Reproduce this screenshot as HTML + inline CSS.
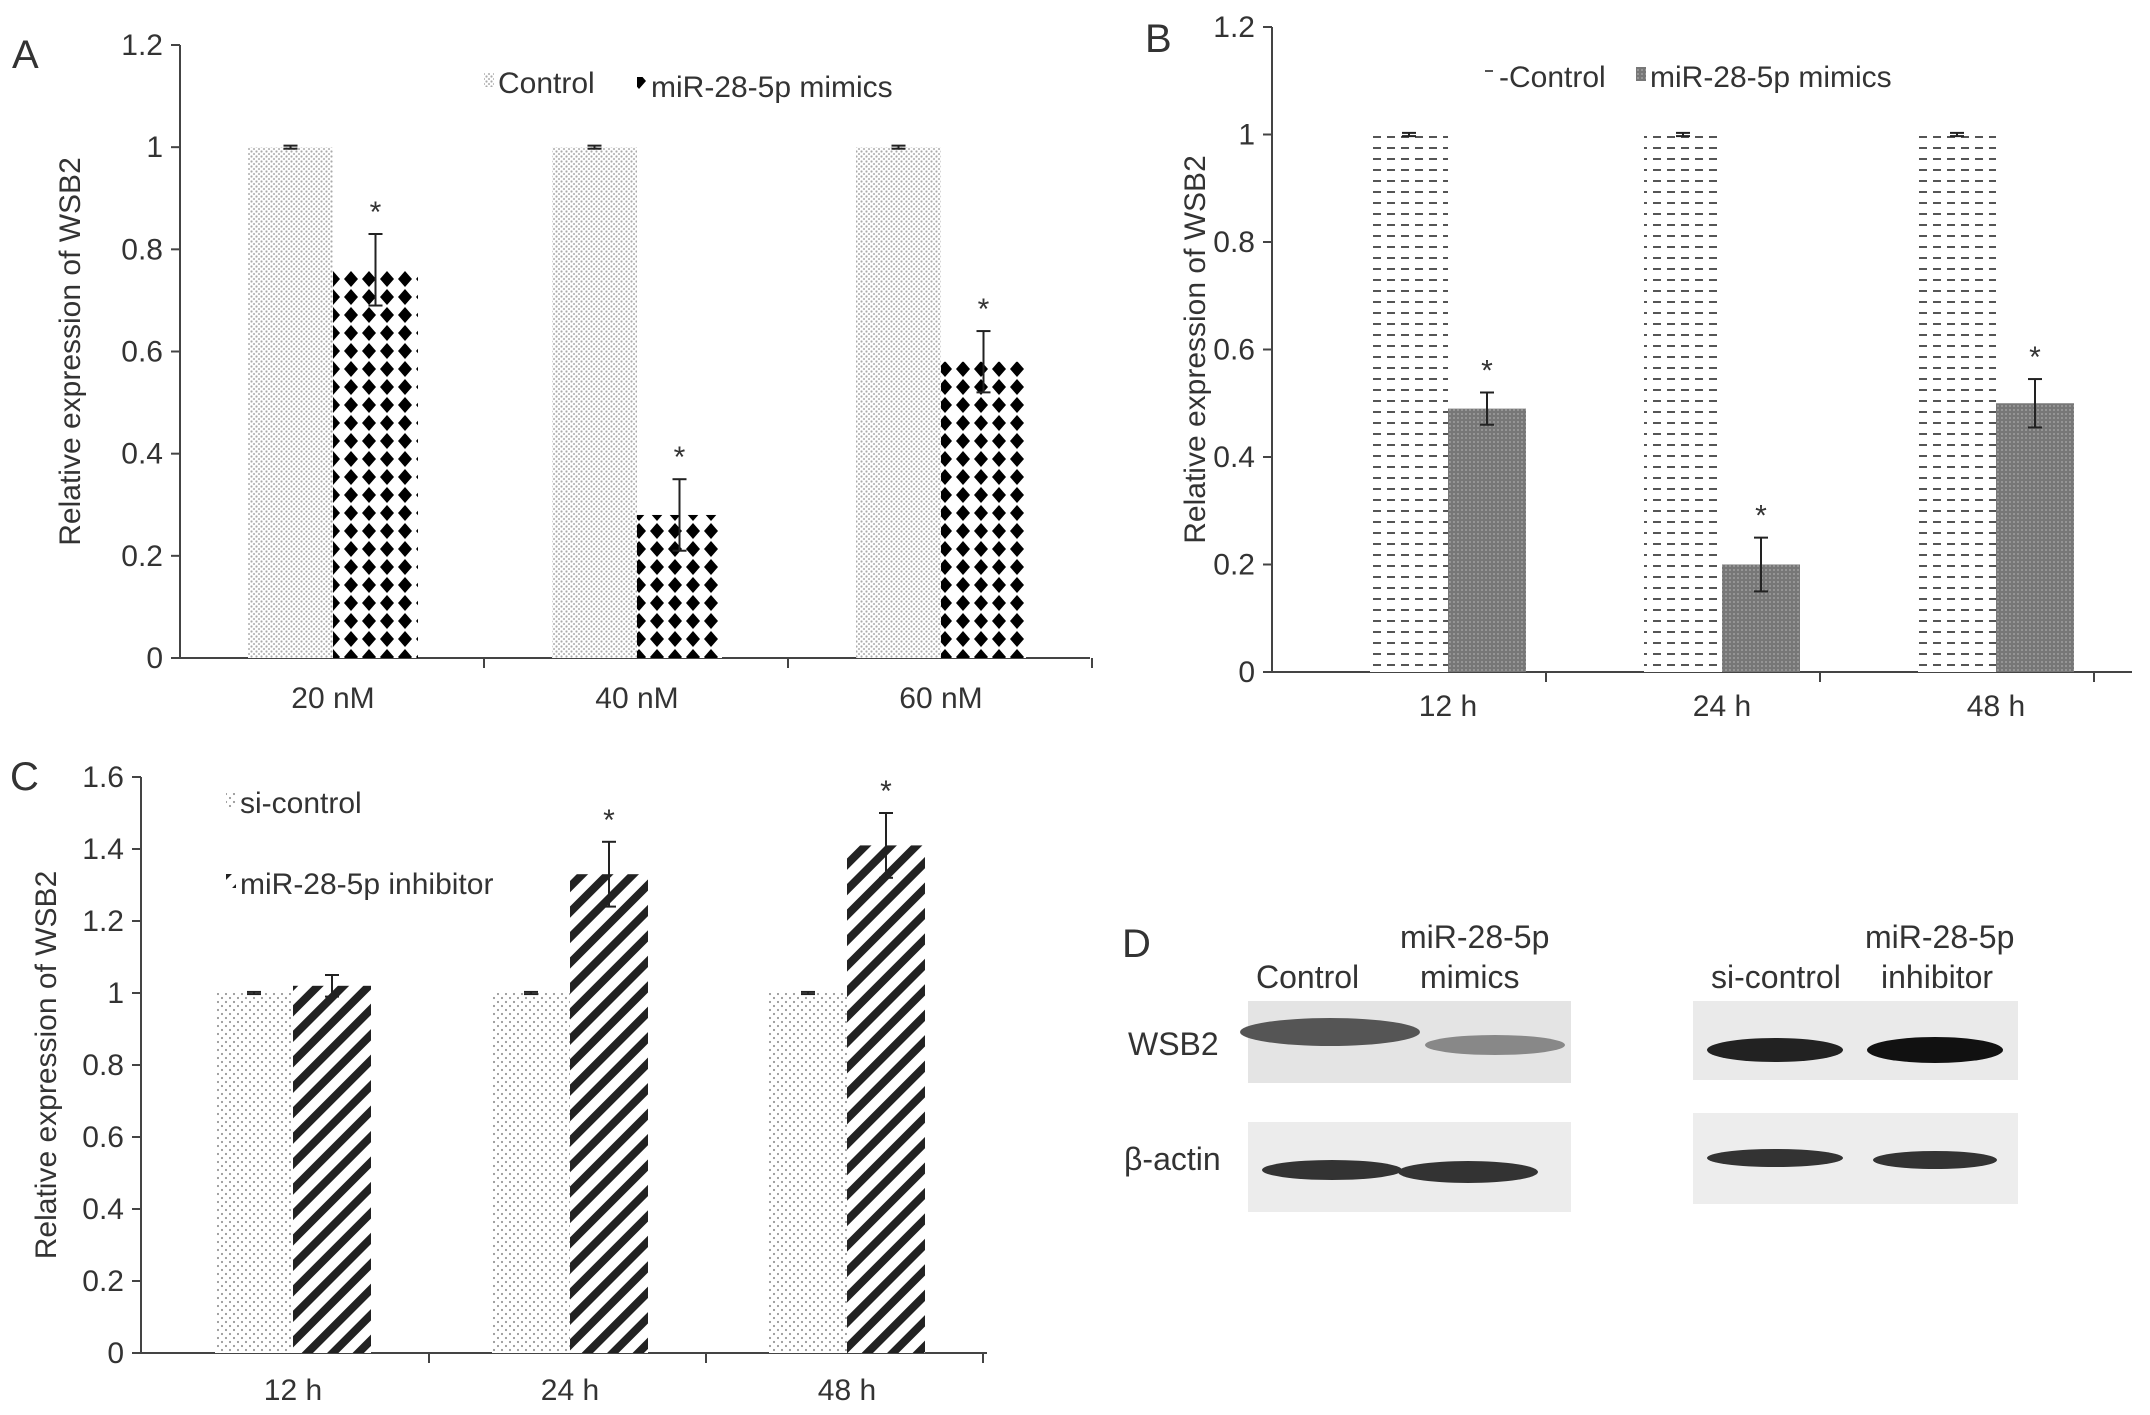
<!DOCTYPE html>
<html><head><meta charset="utf-8"><style>
html,body{margin:0;padding:0;background:#fff}
svg{display:block;font-family:"Liberation Sans",sans-serif}
</style></head><body>
<svg id="fig" width="2150" height="1415" viewBox="0 0 2150 1415">
<defs>
<pattern id="pDots" width="5" height="5" patternUnits="userSpaceOnUse"><rect width="5" height="5" fill="#fff"/><circle cx="1.5" cy="1.5" r="1.1" fill="#aaa"/><circle cx="4" cy="4" r="1.1" fill="#bbb"/></pattern>
<pattern id="pDiamond" width="18" height="18" patternUnits="userSpaceOnUse"><rect width="18" height="18" fill="#fff"/><polygon points="9,1 16,9 9,17 2,9" fill="#000"/></pattern>
<pattern id="pDash" width="14" height="11" patternUnits="userSpaceOnUse"><rect width="14" height="11" fill="#fff"/><rect x="1" y="4" width="8" height="2" fill="#555"/></pattern>
<pattern id="pGray" width="4" height="4" patternUnits="userSpaceOnUse"><rect width="4" height="4" fill="#777"/><circle cx="2" cy="2" r="0.9" fill="#aaa"/></pattern>
<pattern id="pSparse" width="8" height="8" patternUnits="userSpaceOnUse"><rect width="8" height="8" fill="#fff"/><circle cx="2" cy="2" r="1.1" fill="#999"/><circle cx="6" cy="6" r="1.1" fill="#999"/></pattern>
<pattern id="pStripe" width="18" height="18" patternUnits="userSpaceOnUse" patternTransform="rotate(45)"><rect width="18" height="18" fill="#fff"/><rect x="0" y="0" width="8" height="18" fill="#222"/></pattern>
</defs>
</svg>
<script>
// Panel A
const catsA = ["20 nM","40 nM","60 nM"];
const ctrlA = [1.0,1.0,1.0];
const ctrlErrA = [0.003,0.003,0.003];
const mimA = [0.76,0.28,0.58];
const mimErrA = [0.07,0.07,0.06];
const sigA = [true,true,true];
const ticksA = ["0","0.2","0.4","0.6","0.8","1","1.2"];
// Panel B
const catsB = ["12 h","24 h","48 h"];
const ctrlB = [1.0,1.0,1.0];
const ctrlErrB = [0.003,0.003,0.003];
const mimB = [0.49,0.20,0.50];
const mimErrB = [0.03,0.05,0.045];
const sigB = [true,true,true];
const ticksB = ["0","0.2","0.4","0.6","0.8","1","1.2"];
// Panel C
const catsC = ["12 h","24 h","48 h"];
const ctrlC = [1.0,1.0,1.0];
const ctrlErrC = [0.003,0.003,0.003];
const inhC = [1.02,1.33,1.41];
const inhErrC = [0.03,0.09,0.09];
const sigC = [false,true,true];
const ticksC = ["0","0.2","0.4","0.6","0.8","1","1.2","1.4","1.6"];

const svg=document.getElementById('fig');
const NS="http://www.w3.org/2000/svg";
function mk(tag,attrs,parent){const e=document.createElementNS(NS,tag);for(const k in attrs)e.setAttribute(k,attrs[k]);(parent||svg).appendChild(e);return e;}
function txt(s,x,y,size,anchor,parent){const t=mk('text',{x:x,y:y,'font-size':size,'text-anchor':anchor||'start',fill:'#333'},parent);t.textContent=s;return t;}

function panel(o){
  const g=mk('g',{});
  
  
  const ymax=parseFloat(o.ticks[o.ticks.length-1]);
  const y=v=>o.y0-(o.y0-o.yTop)*v/ymax;
  const ax=mk('line',{x1:o.ax,y1:o.yTop,x2:o.ax,y2:o.y0,stroke:'#444','stroke-width':2},g);
  
  const xl=mk('line',{x1:o.ax,y1:o.y0,x2:o.axEnd,y2:o.y0,stroke:'#444','stroke-width':2},g);
  
  o.ticks.forEach(t=>{const v=parseFloat(t);const yy=y(v);
    mk('line',{x1:o.ax-9,y1:yy,x2:o.ax,y2:yy,stroke:'#444','stroke-width':2},g);
    const l=txt(t,o.ax-17,yy+10,30,'end',g);
    });
  const yt=txt("Relative expression of WSB2",0,0,30,'middle',g);
  yt.setAttribute('transform',`translate(${o.ytX},${(o.yTop+o.y0)/2}) rotate(-90)`);
  
  o.cats.forEach((c,i)=>{
    const x0=o.bx+i*o.sp;
    mk('line',{x1:o.sepX+i*o.sp,y1:o.y0,x2:o.sepX+i*o.sp,y2:o.y0+10,stroke:'#444','stroke-width':2},g);
    const series=[[o.ctrl,o.ctrlErr,o.p1],[o.trt,o.trtErr,o.p2]];
    series.forEach((s,j)=>{
      const bxx=x0+j*o.bw, v=s[0][i], e=s[1][i];
      const r=mk('rect',{x:bxx,y:y(v),width:o.bw,height:o.y0-y(v),fill:`url(#${s[2]})`},g);
      
      
      const cx=bxx+o.bw/2;
      mk('line',{x1:cx,y1:y(v+e),x2:cx,y2:y(v-e),stroke:'#222','stroke-width':2},g);
      mk('line',{x1:cx-7,y1:y(v+e),x2:cx+7,y2:y(v+e),stroke:'#222','stroke-width':2},g);
      mk('line',{x1:cx-7,y1:y(v-e),x2:cx+7,y2:y(v-e),stroke:'#222','stroke-width':2},g);
      if(j && o.sig[i]){const a=txt('*',cx,y(v+e)-12,30,'middle',g);}
    });
    const cl=txt(c,x0+o.bw,o.y0+o.labOff,30,'middle',g);
    
  });
  const L=txt(o.letter,o.lx,o.ly,40,'start',g);
  
  o.legend.forEach(l=>{
    mk('rect',{x:l.x-14,y:l.y-20,width:10,height:14,fill:`url(#${l.p})`},g);
    const t=txt(l.t,l.x,l.y,30,'start',g);
    
  });
}
panel({name:'panel-a',letter:'A',lx:12,ly:68,cats:catsA,ctrl:ctrlA,ctrlErr:ctrlErrA,trt:mimA,trtErr:mimErrA,sig:sigA,ticks:ticksA,
  ax:180,axEnd:1090,yTop:45,y0:658,bx:248,bw:85,sp:304,sepX:180+304,p1:'pDots',p2:'pDiamond',ytX:80,labOff:50,
  legend:[{t:'Control',x:498,y:93,p:'pDots'},{t:'miR-28-5p mimics',x:651,y:97,p:'pDiamond'}]});
panel({name:'panel-b',letter:'B',lx:1145,ly:52,cats:catsB,ctrl:ctrlB,ctrlErr:ctrlErrB,trt:mimB,trtErr:mimErrB,sig:sigB,ticks:ticksB,
  ax:1272,axEnd:2132,yTop:27,y0:672,bx:1370,bw:78,sp:274,sepX:1272+274,p1:'pDash',p2:'pGray',ytX:1205,labOff:44,
  legend:[{t:'-Control',x:1499,y:87,p:'pDash'},{t:'miR-28-5p mimics',x:1650,y:87,p:'pGray'}]});
panel({name:'panel-c',letter:'C',lx:10,ly:790,cats:catsC,ctrl:ctrlC,ctrlErr:ctrlErrC,trt:inhC,trtErr:inhErrC,sig:sigC,ticks:ticksC,
  ax:141,axEnd:987,yTop:777,y0:1353,bx:215,bw:78,sp:277,sepX:141+288,p1:'pSparse',p2:'pStripe',ytX:56,labOff:47,
  legend:[{t:'si-control',x:240,y:813,p:'pSparse'},{t:'miR-28-5p inhibitor',x:240,y:894,p:'pStripe'}]});

// Panel D (western blot)
const gd=mk('g',{});


const dl=[['D',1122,957,40],['Control',1256,988,32],['miR-28-5p',1400,948,32],['mimics',1420,988,32],
 ['si-control',1711,988,32],['miR-28-5p',1865,948,32],['inhibitor',1881,988,32],['WSB2',1128,1055,32],['β-actin',1124,1170,32]];
dl.forEach(d=>{const t=txt(d[0],d[1],d[2],d[3],'start',gd);});
const boxes=[[1248,1001,323,82,'#e4e4e4'],[1248,1122,323,90,'#ececec'],[1693,1001,325,79,'#eaeaea'],[1693,1113,325,91,'#ededed']];
boxes.forEach(b=>{const r=mk('rect',{x:b[0],y:b[1],width:b[2],height:b[3],fill:b[4]},gd);});
const bands=[[1330,1032,90,14,'#555'],[1495,1045,70,10,'#888'],[1332,1170,70,10,'#333'],[1468,1172,70,11,'#333'],
 [1775,1050,68,12,'#222'],[1935,1050,68,13,'#111'],[1775,1158,68,9,'#333'],[1935,1160,62,9,'#333']];
bands.forEach(b=>{const e=mk('ellipse',{cx:b[0],cy:b[1],rx:b[2],ry:b[3],fill:b[4]},gd);});
</script>
</body></html>
